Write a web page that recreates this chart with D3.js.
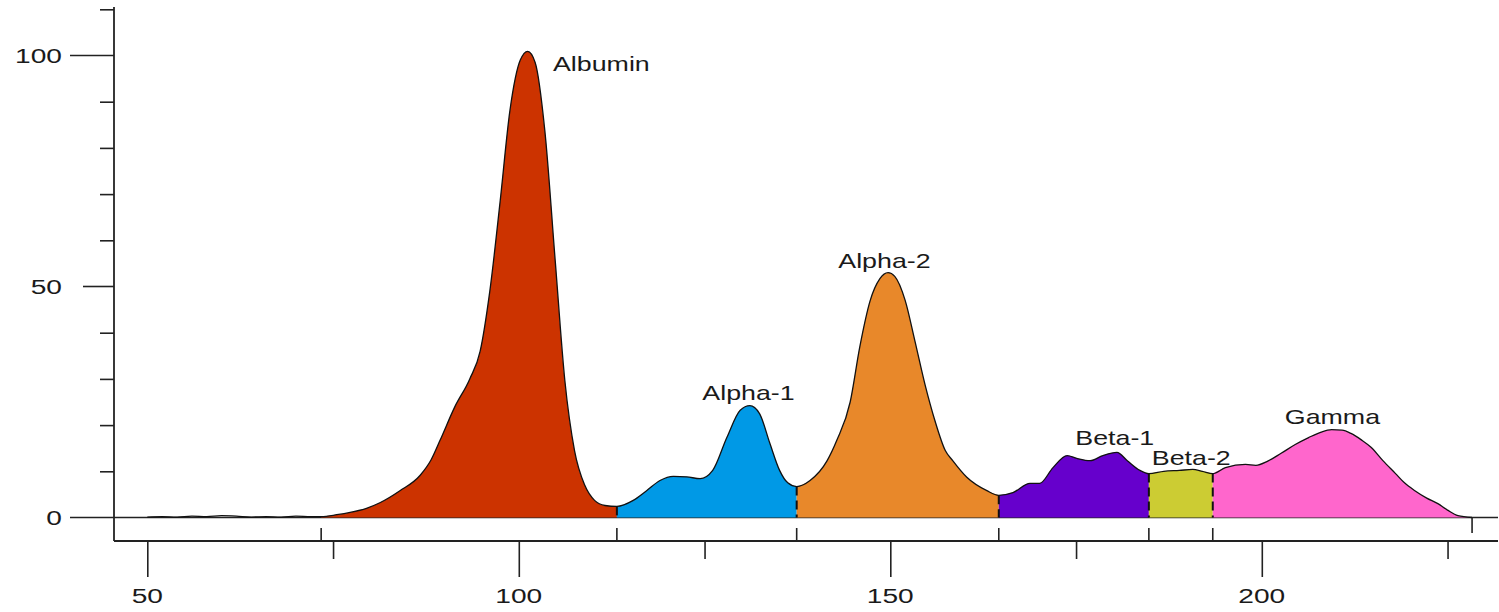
<!DOCTYPE html>
<html>
<head>
<meta charset="utf-8">
<script src="https://cdn.jsdelivr.net/npm/d3@7"></script>
<style>
  body { margin: 0; background: #fff; }
  text { font-family: "Liberation Sans", Arial, sans-serif; fill: #1a1a1a; }
</style>
</head>
<body>
<script>
const w = 1499;
const h = 612;

// fractions of the electrophoresis trace
const fractions = ["Albumin", "Alpha-1", "Alpha-2", "Beta-1", "Beta-2", "Gamma"];
const bounds = [73.4, 113.2, 137.4, 164.6, 184.8, 193.4, 228.3];
const colors = ["#cc3300", "#0099e6", "#e8882a", "#6600cc", "#cccc33", "#ff66cc"];

// label anchor points (data units)
const labelX = [104.6, 124.7, 143.0, 174.9, 185.2, 203.1];
const labelY = [96.6, 25.4, 54.0, 15.7, 11.4, 20.2];

// trace
const traceX = [50, 52, 54, 56, 58, 60, 62, 64, 66, 68, 70, 72, 73.4,
  75.5, 77.3, 79.5, 81.3, 84, 86.7, 88.2, 89.4, 91.4, 93.4, 94.8, 96.1, 97.5, 98.8,
  100.2, 101.2, 102.2, 103.5, 104.9, 106.2, 107.5, 108.9, 110.2, 111.6, 113.2,
  115.4, 117.2, 119.0, 120.8, 122.6, 124.4, 126.1, 128.0, 129.8, 131.1, 132.4,
  133.8, 135.1, 136.2, 137.4,
  139.2, 141.5, 142.8, 144.6, 145.9, 147.3, 148.6, 149.7, 150.6, 152.0, 153.3,
  154.7, 156.0, 157.4, 158.4, 160.3, 163.0, 164.6,
  166.5, 168.8, 170.1, 171.9, 173.8, 175.1, 176.9, 178.6, 180.5, 181.9, 183.6, 184.8,
  186.8, 188.9, 190.7, 192.0, 193.4,
  195.1, 197.8, 199.2, 200.8, 202.6, 204.5, 206.3, 208.0, 209.4, 210.8, 212.0,
  213.4, 214.7, 216.3, 218.0, 219.2, 220.6, 222.2, 223.7, 225.0, 226.4, 228.3];
const traceY = [0.1, 0.2, 0.1, 0.3, 0.2, 0.4, 0.3, 0.1, 0.2, 0.1, 0.3, 0.2, 0.2,
  0.6, 1.1, 2.0, 3.2, 5.8, 9.1, 12.5, 16.7, 24, 30, 36, 49, 68.6, 88,
  99, 100.9, 98.5, 83.8, 55.6, 29.6, 14.5, 6.9, 3.7, 2.6, 2.4,
  3.7, 5.8, 8, 8.9, 8.8, 8.4, 10.2, 17.3, 23.2, 24.2, 22.5,
  16, 10.2, 7.5, 6.7,
  8, 12.3, 16.7, 25, 37, 47, 51.7, 53, 52.2, 47, 38.3,
  28.6, 21, 14.5, 12.3, 8.7, 5.8, 4.8,
  5.4, 7.4, 7.4, 10.8, 13.4, 12.8, 12.3, 13.4, 14.1, 12.3, 10.2, 9.5,
  10.0, 10.2, 10.4, 10.0, 9.5,
  10.8, 11.5, 11.3, 12.2, 13.9, 15.8, 17.3, 18.5, 19, 18.9, 18.2,
  16.8, 15.2, 12.3, 9.5, 7.5, 5.8, 4.2, 3, 1.6, 0.4, 0];

const yMinor = [10, 20, 30, 40, 60, 70, 80, 90, 110];
const xMajor = [50, 100, 150, 200];
const xMinor = [75, 125, 175, 225];

const trace = traceX.map((x, i) => ({ x: x, y: traceY[i] }));

const svg = d3.select("body").append("svg").attr("width", w).attr("height", h);

const xScale = d3.scaleLinear().domain([50, 200]).range([147.3, 1261.8]);
const yScale = d3.scaleLinear().domain([0, 100]).range([517.5, 55.5]);
const axisX = 114;
const axisY = 541;
const sx = 1.34; // text in the source is stretched sideways

// zero line
svg.append("line")
  .attr("x1", 70).attr("x2", w - 1)
  .attr("y1", yScale(0)).attr("y2", yScale(0))
  .attr("stroke", "#222").attr("stroke-width", 1.6);

// fills
const area = d3.area()
  .curve(d3.curveMonotoneX)
  .x((d) => xScale(d.x))
  .y0(yScale(0))
  .y1((d) => yScale(d.y));

fractions.forEach((f, i) => {
  const pts = trace.filter((d) => d.x >= bounds[i] && d.x <= bounds[i + 1]);
  svg.append("path")
    .datum(pts)
    .attr("fill", colors[i])
    .attr("d", area);
});

// outline of the trace
const line = d3.line()
  .curve(d3.curveMonotoneX)
  .x((d) => xScale(d.x))
  .y((d) => yScale(d.y));
svg.append("path")
  .datum(trace)
  .attr("fill", "none")
  .attr("stroke", "#111")
  .attr("stroke-width", 1.3)
  .attr("d", line);

// dashed dividers between fractions
bounds.slice(1, 6).forEach((b) => {
  const v = traceY[traceX.indexOf(b)];
  svg.append("line")
    .attr("x1", xScale(b)).attr("x2", xScale(b))
    .attr("y1", yScale(v)).attr("y2", yScale(0))
    .attr("stroke", "#111").attr("stroke-width", 2)
    .attr("stroke-dasharray", "9,5");
});

// divider ticks on the x axis
bounds.slice(0, 6).forEach((b) => {
  svg.append("line")
    .attr("x1", xScale(b)).attr("x2", xScale(b))
    .attr("y1", 528).attr("y2", axisY)
    .attr("stroke", "#222").attr("stroke-width", 1.6);
});
svg.append("line")
  .attr("x1", xScale(bounds[6])).attr("x2", xScale(bounds[6]))
  .attr("y1", yScale(0)).attr("y2", 533)
  .attr("stroke", "#222").attr("stroke-width", 1.6);

// y axis
svg.append("line")
  .attr("x1", axisX).attr("x2", axisX)
  .attr("y1", 7).attr("y2", axisY)
  .attr("stroke", "#222").attr("stroke-width", 1.8);

const yAxisMinor = d3.axisLeft(yScale).tickValues(yMinor).tickSize(14).tickFormat("");
const gy = svg.append("g")
  .attr("transform", `translate(${axisX}, 0)`)
  .call(yAxisMinor);
gy.select(".domain").remove();
gy.selectAll("line").attr("stroke", "#222").attr("stroke-width", 1.6);

svg.append("line")
  .attr("x1", 70).attr("x2", axisX)
  .attr("y1", yScale(100)).attr("y2", yScale(100))
  .attr("stroke", "#222").attr("stroke-width", 1.6);
svg.append("line")
  .attr("x1", 83).attr("x2", axisX)
  .attr("y1", yScale(50)).attr("y2", yScale(50))
  .attr("stroke", "#222").attr("stroke-width", 1.6);

[0, 50, 100].forEach((v) => {
  svg.append("text")
    .attr("transform", `translate(62, ${yScale(v) + 7.5}) scale(${sx}, 1)`)
    .attr("text-anchor", "end")
    .attr("font-size", 21)
    .text(v);
});

// x axis
svg.append("line")
  .attr("x1", axisX).attr("x2", w - 1)
  .attr("y1", axisY).attr("y2", axisY)
  .attr("stroke", "#222").attr("stroke-width", 1.8);

const xAxisMajor = d3.axisBottom(xScale).tickValues(xMajor).tickSize(36).tickFormat("");
const xAxisMinor = d3.axisBottom(xScale).tickValues(xMinor).tickSize(18).tickFormat("");
[xAxisMajor, xAxisMinor].forEach((ax) => {
  const g = svg.append("g")
    .attr("transform", `translate(0, ${axisY})`)
    .call(ax);
  g.select(".domain").remove();
  g.selectAll("line").attr("stroke", "#222").attr("stroke-width", 1.6);
});

xMajor.forEach((v) => {
  svg.append("text")
    .attr("transform", `translate(${xScale(v)}, 603) scale(${sx}, 1)`)
    .attr("text-anchor", "middle")
    .attr("font-size", 21)
    .text(v);
});

// fraction labels
fractions.forEach((f, i) => {
  svg.append("text")
    .attr("transform", `translate(${xScale(labelX[i])}, ${yScale(labelY[i])}) scale(${sx}, 1)`)
    .attr("font-size", 20)
    .text(f);
});
</script>
</body>
</html>
